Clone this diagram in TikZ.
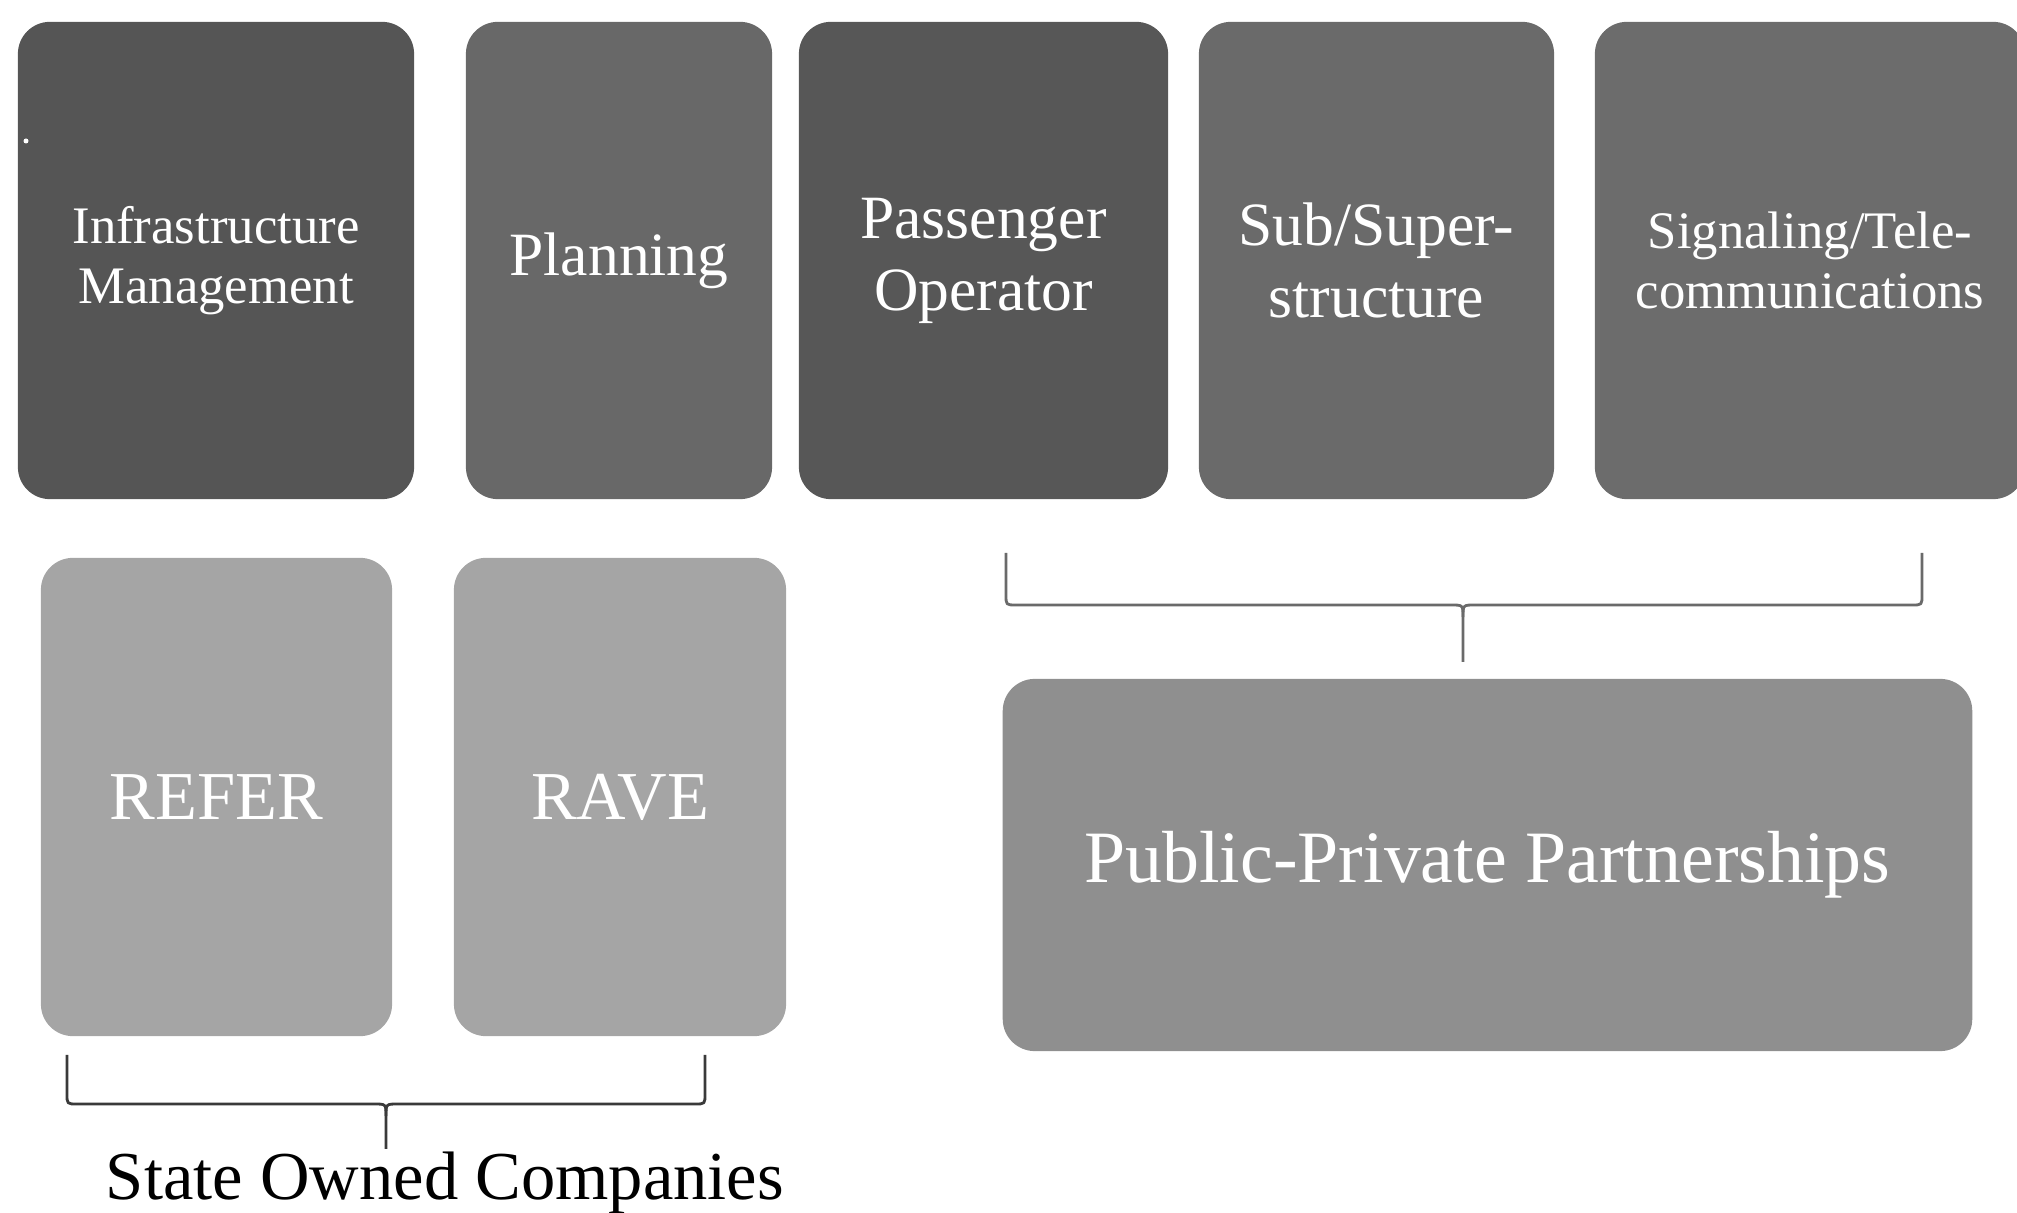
\documentclass[tikz,border=0pt]{standalone}
\usepackage{fontspec}
\setmainfont{Liberation Serif}
\definecolor{cA}{HTML}{555555}
\definecolor{cB}{HTML}{686868}
\definecolor{cC}{HTML}{575757}
\definecolor{cD}{HTML}{6A6A6A}
\definecolor{cE}{HTML}{6C6C6C}
\definecolor{cF}{HTML}{A5A5A5}
\definecolor{cG}{HTML}{8F8F8F}
\definecolor{bracetop}{HTML}{6A6A6A}
\definecolor{bracebot}{HTML}{3A3A3A}
\tikzset{
  card/.style={rectangle, rounded corners=0.32cm, draw=none, text=white, align=center, inner sep=0pt},
  brace/.style={line width=0.8pt, line join=round},
}
\begin{document}
\begin{tikzpicture}[x=0.01cm,y=-0.01cm]
\useasboundingbox (0,0) rectangle (2017,1213);
% top row
\node[card, fill=cA, minimum width=3.96cm, minimum height=4.77cm, font=\fontsize{15}{17}\selectfont] (b1) at (216,260.5) {Infrastructure\\Management};
\node[card, fill=cB, minimum width=3.06cm, minimum height=4.77cm, font=\fontsize{17.5}{20}\selectfont] (b2) at (619,260.5) {Planning};
\node[card, fill=cC, minimum width=3.69cm, minimum height=4.77cm, font=\fontsize{17.5}{20.5}\selectfont] (b3) at (983.5,260.5) {Passenger\\Operator};
\node[card, fill=cD, minimum width=3.55cm, minimum height=4.77cm, font=\fontsize{17.5}{20.5}\selectfont] (b4) at (1376.5,260.5) {Sub/Super-\\structure};
\node[card, fill=cE, minimum width=4.30cm, minimum height=4.77cm, font=\fontsize{15}{17}\selectfont] (b5) at (1810,260.5) {Signaling/Tele-\\communications};
\fill[white] (26,141) circle (2.5);
% bottom row
\node[card, fill=cF, minimum width=3.51cm, minimum height=4.78cm, font=\fontsize{19.5}{22}\selectfont] (refer) at (216.5,797) {REFER};
\node[card, fill=cF, minimum width=3.32cm, minimum height=4.78cm, font=\fontsize{19.5}{22}\selectfont] (rave) at (620,797) {RAVE};
\node[card, fill=cG, minimum width=9.69cm, minimum height=3.72cm, font=\fontsize{21}{24}\selectfont] (ppp) at (1487.5,865) {Public-Private Partnerships};
% braces
\coordinate (tl) at (1006,553);
\coordinate (tr) at (1922,553);
\coordinate (tt) at (1463,662);
\draw[brace, draw=bracetop] (tl) -- (1006,595) .. controls (1006,605) .. (1016,605) -- (1451,605) .. controls (1463,605) .. (1463,617) -- (tt);
\draw[brace, draw=bracetop] (1463,617) .. controls (1463,605) .. (1475,605) -- (1912,605) .. controls (1922,605) .. (1922,595) -- (tr);
\node[anchor=base, font=\fontsize{19.5}{22}\selectfont, text=black] (soc) at (445,1200) {State Owned Companies};
\coordinate (bl) at (67,1055);
\coordinate (br) at (705,1055);
\coordinate (bt) at (386,1149);
\draw[brace, draw=bracebot] (bl) -- (67,1094) .. controls (67,1104) .. (77,1104) -- (374,1104) .. controls (386,1104) .. (386,1116) -- (bt);
\draw[brace, draw=bracebot] (386,1116) .. controls (386,1104) .. (398,1104) -- (695,1104) .. controls (705,1104) .. (705,1094) -- (br);
\end{tikzpicture}
\end{document}
